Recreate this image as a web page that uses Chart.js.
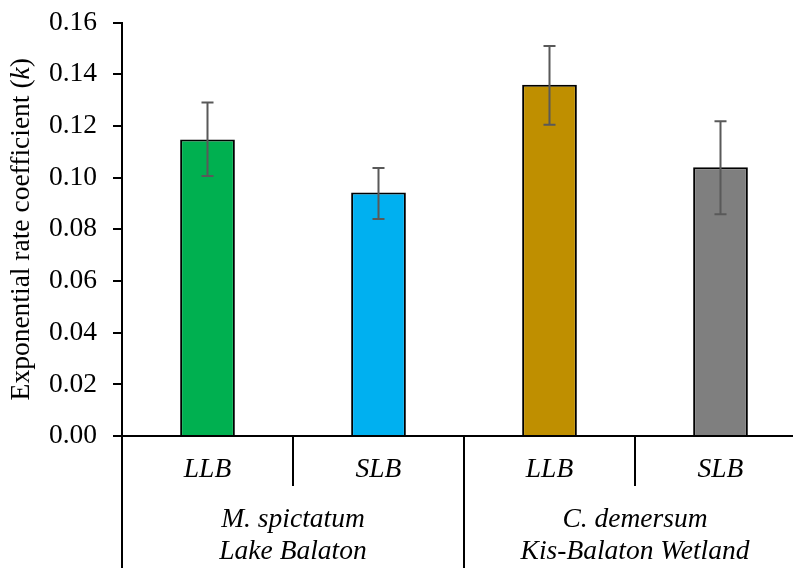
<!DOCTYPE html>
<html>
<head>
<meta charset="utf-8">
<script src="https://cdn.jsdelivr.net/npm/chart.js@4.4.1/dist/chart.umd.min.js"></script>
<style>
  html, body { margin: 0; padding: 0; background: #fff; overflow: hidden; }
  #wrap { width: 810px; height: 578px; position: relative; margin-top: -10px; }
</style>
</head>
<body>
<div id="wrap"><canvas id="rateChart"></canvas></div>
<script>
// data
const categories = ['LLB', 'SLB', 'LLB', 'SLB'];
const groups = [
    { lines: ['M. spictatum', 'Lake Balaton'], span: 2 },
    { lines: ['C. demersum', 'Kis-Balaton Wetland'], span: 2 }
];
const rateValues = [0.1147, 0.0942, 0.1359, 0.1040];
const errLow = [0.1006, 0.0840, 0.1204, 0.0858];
const errHigh = [0.1290, 0.1037, 0.1509, 0.1218];
const barColors = ['#00B050', '#00B0F0', '#BF8F00', '#7F7F7F'];
const yTicks = [0, 0.02, 0.04, 0.06, 0.08, 0.10, 0.12, 0.14, 0.16];

const FONT = '"Liberation Serif", "Times New Roman", serif';
const FS = 27.5;

// error bars on top of the bars
const errorBars = {
    id: 'errorBars',
    afterDatasetsDraw(chart) {
        const c = chart.ctx;
        const y = chart.scales.y;
        const meta = chart.getDatasetMeta(0);
        c.save();
        c.strokeStyle = '#595959';
        c.lineWidth = 2;
        meta.data.forEach((bar, i) => {
            const yl = y.getPixelForValue(errLow[i]);
            const yh = y.getPixelForValue(errHigh[i]);
            c.beginPath();
            c.moveTo(bar.x, yl); c.lineTo(bar.x, yh);
            c.moveTo(bar.x - 6, yl); c.lineTo(bar.x + 6, yl);
            c.moveTo(bar.x - 6, yh); c.lineTo(bar.x + 6, yh);
            c.stroke();
        });
        c.restore();
    }
};

// two-level category axis + y title with italic k
const groupAxis = {
    id: 'groupAxis',
    afterDraw(chart) {
        const c = chart.ctx;
        const a = chart.chartArea;
        const n = categories.length;
        const w = (a.right - a.left) / n;
        const H = chart.height;
        c.save();
        c.strokeStyle = '#000';
        c.lineWidth = 2;
        c.beginPath();
        c.moveTo(a.left - 9, a.bottom); c.lineTo(a.right, a.bottom);
        // inner separators (short) and group separators (full)
        let k = 0;
        c.moveTo(a.left, a.bottom); c.lineTo(a.left, H);
        groups.forEach(g => {
            for (let j = 1; j < g.span; j++) {
                const x = a.left + (k + j) * w;
                c.moveTo(x, a.bottom); c.lineTo(x, a.bottom + 50);
            }
            k += g.span;
            const x = a.left + k * w;
            c.moveTo(x, a.bottom); c.lineTo(x, H);
        });
        c.stroke();

        c.fillStyle = '#000';
        c.textAlign = 'center';
        c.textBaseline = 'middle';
        c.font = 'italic ' + FS + 'px ' + FONT;
        categories.forEach((t, i) => {
            c.fillText(t, a.left + (i + 0.5) * w, a.bottom + 34);
        });
        k = 0;
        groups.forEach(g => {
            const cx = a.left + (k + g.span / 2) * w;
            g.lines.forEach((t, j) => {
                c.fillText(t, cx, a.bottom + 84 + j * 32);
            });
            k += g.span;
        });

        // y title
        const parts = [
            ['Exponential rate coefficient (', ''],
            ['k', 'italic '],
            [')', '']
        ];
        let total = 0;
        parts.forEach(p => { c.font = p[1] + FS + 'px ' + FONT; total += c.measureText(p[0]).width; });
        c.translate(22, (a.top + a.bottom) / 2);
        c.rotate(-Math.PI / 2);
        c.textAlign = 'left';
        let x = -total / 2;
        parts.forEach(p => {
            c.font = p[1] + FS + 'px ' + FONT;
            c.fillText(p[0], x, 0);
            x += c.measureText(p[0]).width;
        });
        c.restore();
    }
};

const ctx = document.getElementById('rateChart').getContext('2d');
const rateChart = new Chart(ctx, {
    type: 'bar',
    data: {
        labels: categories,
        datasets: [{
            data: rateValues,
            backgroundColor: barColors,
            borderColor: '#000',
            borderWidth: 2,
            borderSkipped: 'bottom',
            categoryPercentage: 0.32,
            barPercentage: 1
        }]
    },
    options: {
        responsive: true,
        maintainAspectRatio: false,
        animation: false,
        layout: { padding: { top: 6, right: 4, bottom: 132, left: 0 } },
        plugins: {
            legend: { display: false },
            tooltip: { enabled: false }
        },
        scales: {
            x: { display: false },
            y: {
                min: 0,
                max: 0.16,
                afterBuildTicks: (scale) => { scale.ticks = yTicks.map(v => ({ value: v })); },
                afterFit: (scale) => { scale.width = 122; },
                border: { display: true, color: '#000', width: 2 },
                grid: { drawOnChartArea: false, drawTicks: true, tickLength: 9, color: '#000', lineWidth: 2 },
                ticks: {
                    padding: 16,
                    color: '#000',
                    font: { family: FONT, size: FS },
                    callback: (v) => Number(v).toFixed(2)
                }
            }
        }
    },
    plugins: [errorBars, groupAxis]
});
</script>
</body>
</html>
